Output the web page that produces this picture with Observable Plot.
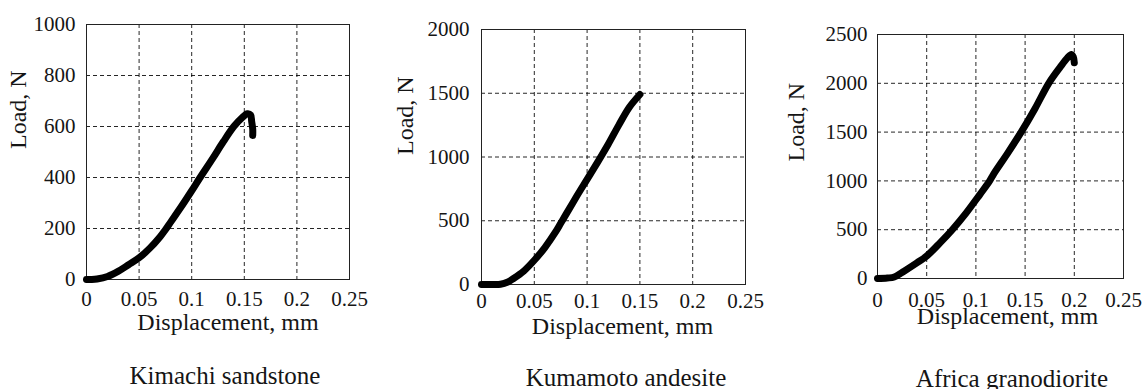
<!DOCTYPE html>
<html><head><meta charset="utf-8">
<script src="https://cdn.jsdelivr.net/npm/d3@7"></script>
<script src="https://cdn.jsdelivr.net/npm/@observablehq/plot@0.6"></script>
<style>
body{margin:0;background:#fff;}
#wrap{position:relative;width:1142px;height:389px;overflow:hidden;font-family:"Liberation Serif","Times New Roman",serif;color:#151515;}
.panel{position:absolute;top:0;}
.panel svg{overflow:visible;}
.cap{position:absolute;font-size:25px;white-space:nowrap;transform:translate(-50%,-50%);line-height:1;}
</style></head><body><div id="wrap"></div>
<script>
const xTicks = [0, 0.05, 0.1, 0.15, 0.2, 0.25];
const xTickLabels = ["0", "0.05", "0.1", "0.15", "0.2", "0.25"];
const xLabel = "Displacement, mm";
const yLabel = "Load, N";
const captions = ["Kimachi sandstone", "Kumamoto andesite", "Africa granodiorite"];

const kimachiTicks = [0, 200, 400, 600, 800, 1000];
const kumamotoTicks = [0, 500, 1000, 1500, 2000];
const africaTicks = [0, 500, 1000, 1500, 2000, 2500];

const kimachiDisp = [0, 0.005, 0.01, 0.02, 0.03, 0.04, 0.05, 0.06, 0.07, 0.075, 0.08, 0.09, 0.1, 0.108, 0.12, 0.13, 0.14, 0.148, 0.153, 0.156, 0.157, 0.158, 0.158];
const kimachiLoad = [0, 0, 2, 12, 32, 58, 85, 122, 168, 195, 225, 285, 348, 400, 475, 540, 600, 635, 650, 645, 620, 590, 565];

const kumamotoDisp = [0, 0.01, 0.018, 0.025, 0.03, 0.04, 0.05, 0.06, 0.07, 0.075, 0.08, 0.09, 0.1, 0.11, 0.12, 0.13, 0.14, 0.15];
const kumamotoLoad = [0, 0, 2, 20, 45, 105, 190, 290, 410, 480, 550, 690, 825, 960, 1100, 1250, 1390, 1490];

const africaDisp = [0, 0.01, 0.017, 0.027, 0.04, 0.05, 0.064, 0.076, 0.09, 0.104, 0.114, 0.118, 0.132, 0.146, 0.16, 0.174, 0.186, 0.193, 0.197, 0.199, 0.2];
const africaLoad = [0, 5, 15, 75, 160, 230, 370, 500, 670, 860, 1000, 1070, 1280, 1500, 1740, 2000, 2170, 2260, 2295, 2270, 2210];

const wrap = document.getElementById("wrap");

function panel(o) {
  const data = o.disp.map((d, i) => ({disp: d, load: o.load[i]}));
  const plot = Plot.plot({
    width: o.width,
    height: o.height,
    marginLeft: o.ml, marginRight: o.mr, marginTop: o.mt, marginBottom: o.mb,
    style: {fontFamily: '"Liberation Serif","Times New Roman",serif', fontSize: "21px", background: "transparent", color: "#151515", overflow: "visible"},
    x: {domain: [0, 0.25], label: null},
    y: {domain: [0, o.yTicks[o.yTicks.length - 1]], label: null},
    marks: [
      Plot.gridX(xTicks, {stroke: "#000", strokeOpacity: 0.85, strokeDasharray: "4,3"}),
      Plot.gridY(o.yTicks, {stroke: "#000", strokeOpacity: 0.85, strokeDasharray: "4,3"}),
      Plot.frame({stroke: "#222", strokeWidth: 1}),
      Plot.axisX(xTicks, {tickSize: 0, tickPadding: o.xPad, tickFormat: d => xTickLabels[xTicks.indexOf(d)], fontSize: 21}),
      Plot.axisY(o.yTicks, {tickSize: 0, tickPadding: o.yPad, tickFormat: d => String(d), fontSize: 21}),
      Plot.line(data, {x: "disp", y: "load", stroke: "#000", strokeWidth: 7, strokeLinecap: "round", strokeLinejoin: "round", curve: "catmull-rom"}),
      Plot.text([xLabel], {text: d => d, frameAnchor: "bottom", dy: o.xlDy, dx: o.xlDx, fontSize: 24}),
      Plot.text([yLabel], {text: d => d, frameAnchor: "left", rotate: -90, dx: o.ylDx, dy: o.ylDy, fontSize: 24})
    ]
  });
  const div = document.createElement("div");
  div.className = "panel";
  div.style.left = o.left + "px";
  div.style.width = o.width + "px";
  div.appendChild(plot);
  wrap.appendChild(div);
  const cap = document.createElement("div");
  cap.className = "cap";
  cap.textContent = o.caption;
  cap.style.left = o.capX + "px";
  cap.style.top = o.capY + "px";
  wrap.appendChild(cap);
}

panel({disp: kimachiDisp, load: kimachiLoad, yTicks: kimachiTicks, left: 0, width: 380, height: 350,
  ml: 86, mr: 31, mt: 24, mb: 71, xPad: 12, yPad: 11, xlDy: 50, xlDx: 10, ylDx: -68, ylDy: -3,
  caption: captions[0], capX: 225, capY: 375});
panel({disp: kumamotoDisp, load: kumamotoLoad, yTicks: kumamotoTicks, left: 380, width: 380, height: 350,
  ml: 101, mr: 15, mt: 29, mb: 66, xPad: 9, yPad: 12, xlDy: 49, xlDx: 9, ylDx: -76, ylDy: -2,
  caption: captions[1], capX: 626, capY: 377});
panel({disp: africaDisp, load: africaLoad, yTicks: africaTicks, left: 760, width: 382, height: 350,
  ml: 117, mr: 19, mt: 34, mb: 72, xPad: 14, yPad: 10, xlDy: 45, xlDx: 7, ylDx: -81, ylDy: 5,
  caption: captions[2], capX: 1012, capY: 378});
</script>
</body></html>
